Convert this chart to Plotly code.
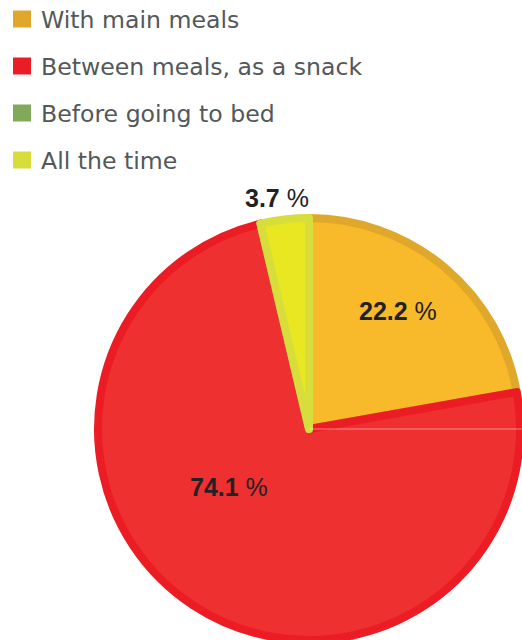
import plotly.graph_objects as go

# When people eat the product (share of respondents, %)
categories = ["With main meals", "Between meals, as a snack", "Before going to bed", "All the time"]
shares = [22.2, 74.1, 0.0, 3.7]
fill_colors = ["#F8B92B", "#EF3030", "#82A85A", "#E9E622"]
edge_colors = ["#DFA82A", "#EC1C24", "#82A85A", "#D7DD3B"]

W, H = 522, 640
cx, cy, r = 309, 429, 211  # pie centre and radius in pixels

fig = go.Figure()
fig.add_trace(go.Pie(
    labels=categories,
    values=shares,
    sort=False,
    direction="clockwise",
    rotation=0,
    textinfo="none",
    hoverinfo="label+percent",
    showlegend=False,
    marker=dict(colors=fill_colors, line=dict(color=edge_colors, width=8)),
    domain=dict(x=[(cx - r) / W, (cx + r) / W], y=[1 - (cy + r) / H, 1 - (cy - r) / H]),
))

shapes = []
annotations = []

# Legend: coloured squares with category names
legend_y = [19, 66, 113, 160]
for name, col, yc in zip(categories, edge_colors, legend_y):
    shapes.append(dict(type="rect", xref="paper", yref="paper",
                       x0=13 / W, x1=31 / W, y0=1 - (yc + 8.5) / H, y1=1 - (yc - 8.5) / H,
                       fillcolor=col, line=dict(width=0)))
    annotations.append(dict(xref="paper", yref="paper", x=39 / W, y=1 - (yc + 1) / H,
                            xanchor="left", yanchor="middle", showarrow=False,
                            text=name, font=dict(family="DejaVu Sans", size=23.6, color="#53585A")))

# Faint reference line from the centre towards 3 o'clock
shapes.append(dict(type="line", xref="paper", yref="paper",
                   x0=cx / W, x1=1.0, y0=1 - cy / H, y1=1 - cy / H,
                   line=dict(color="rgba(255,255,255,0.45)", width=1)))

# Percentage labels
label_pos = {0: (398, 311), 1: (229, 487), 3: (277, 198)}
for i, (x, y) in label_pos.items():
    annotations.append(dict(xref="paper", yref="paper", x=x / W, y=1 - y / H,
                            xanchor="center", yanchor="middle", showarrow=False,
                            text=f"<b>{shares[i]:.1f}</b> %",
                            font=dict(family="Liberation Sans", size=25, color="#222222")))

fig.update_layout(
    width=W, height=H,
    margin=dict(l=0, r=0, t=0, b=0),
    paper_bgcolor="white",
    plot_bgcolor="white",
    shapes=shapes,
    annotations=annotations,
)

fig.write_html("out.html")
